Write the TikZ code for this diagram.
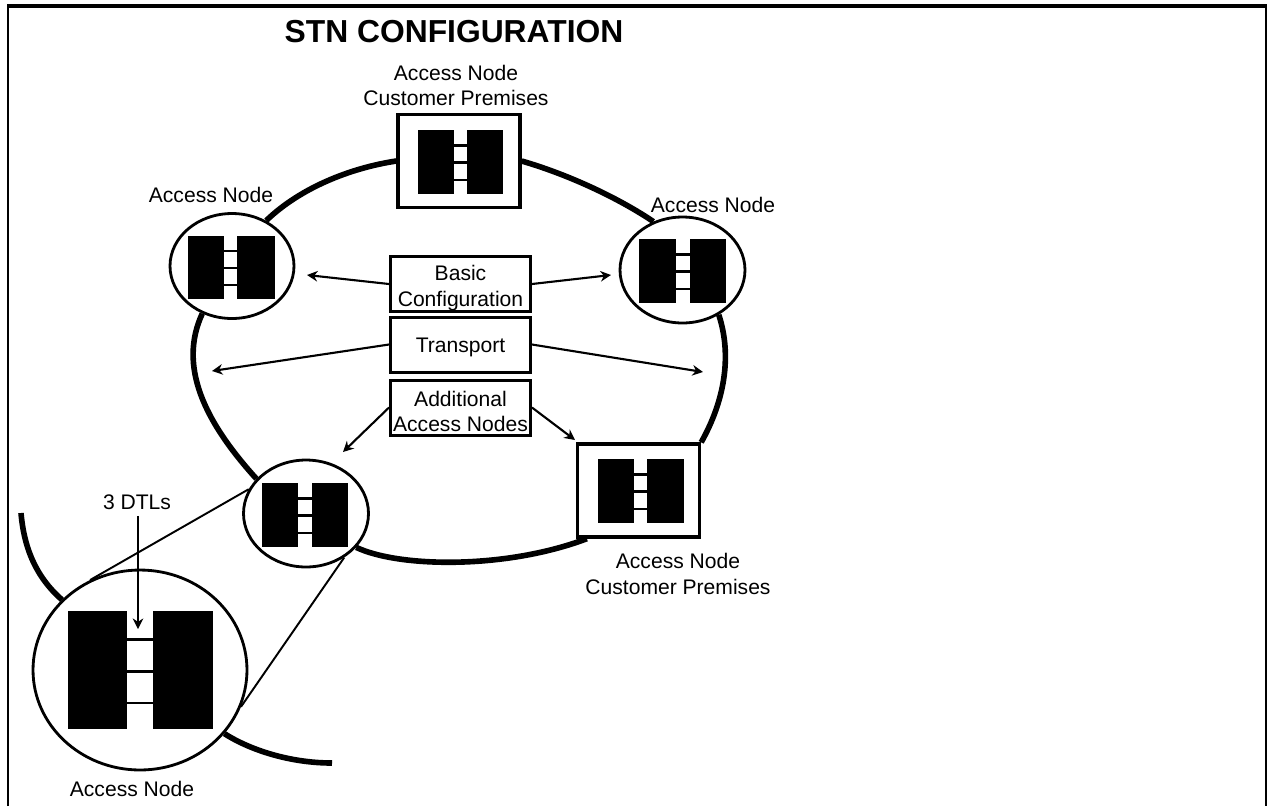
\documentclass[tikz,border=0pt]{standalone}
\usepackage{fontspec}
\setmainfont{Liberation Sans}
\usetikzlibrary{shapes.geometric, positioning, arrows.meta}

\begin{document}
\begin{tikzpicture}[x=0.02cm, y=-0.02cm,
    every node/.style={inner sep=0pt},
    labeltext/.style={align=center, font=\fontsize{12}{14.6}\selectfont},
    sitecircle/.style={draw, ellipse, line width=1.6pt, fill=white},
    sitebox/.style={draw, rectangle, line width=1.9pt, fill=white, minimum width=2.44cm, minimum height=1.86cm},
    notebox/.style={draw, rectangle, line width=1.7pt, labeltext, minimum width=2.8cm, minimum height=1.1cm},
    ringline/.style={line width=3.2pt},
    pointer/.style={-{Stealth[length=6pt, width=6pt]}, line width=1.2pt},
    zoomline/.style={line width=1.1pt}]
    \useasboundingbox (0,0) rectangle (1267,806);

    % Frame, open at the bottom
    \draw[line width=1.4pt] (8,806) -- (8,6);
    \draw[line width=1.1pt] (1266,6) -- (1266,806);
    \draw[line width=1.9pt] (7,6) -- (1267,6);

    % Title
    \node[font=\bfseries\fontsize{18.1}{22}\selectfont] (title) at (454,32) {STN CONFIGURATION};

    % Access nodes on the ring
    \node[sitebox] (topsite) at (459,161) {};
    \node[sitebox] (brsite) at (638.5,490.5) {};
    \node[sitecircle, minimum width=2.48cm, minimum height=2.1cm] (leftsite) at (232,266) {};
    \node[sitecircle, minimum width=2.5cm, minimum height=2.12cm] (rightsite) at (682.5,270) {};
    \node[sitecircle, minimum width=2.5cm, minimum height=2.14cm] (lowsite) at (306,513.5) {};
    \node[sitecircle, minimum width=4.28cm, minimum height=4cm] (bigsite) at (140,670) {};

    % Ring segments
    \draw[ringline] (topsite.west) .. controls (350,168) and (300,188) .. (leftsite.53);
    \draw[ringline] (topsite.east) .. controls (570,175) and (620,199) .. (rightsite.121);
    \draw[ringline] (leftsite.-122) .. controls (178,366) and (204,421) .. (lowsite.145);
    \draw[ringline] (rightsite.-51) .. controls (732,355) and (725,400) .. (brsite.north east);
    \draw[ringline] (lowsite.-34) .. controls (400,568) and (507,569) .. (brsite.-137);

    % Detached ring pieces round the enlarged node
    \coordinate (leftstub) at (21,513);
    \coordinate (rightstub) at (332,763);
    \draw[ringline] (leftstub) .. controls (24,548) and (36,577) .. (bigsite.138);
    \draw[ringline] (bigsite.-37) .. controls (250,750) and (290,763) .. (rightstub);

    % Lines of the enlargement
    \draw[zoomline] (lowsite.157) -- (bigsite.119);
    \draw[zoomline] (lowsite.-49) -- (bigsite.-20);

    % Boxes in the middle
    \node[notebox] (basic) at (460.5,284) {\rule{0pt}{13pt}Basic\\Configuration};
    \node[notebox] (transport) at (460.5,344.5) {\rule{0pt}{12pt}Transport};
    \node[notebox] (additional) at (460.5,407.5) {\rule{0pt}{13pt}Additional\\Access Nodes};

    % Free ends of the arrows
    \coordinate (basicleft) at (307,275);
    \coordinate (basicright) at (611,275);
    \coordinate (transportleft) at (212,371);
    \coordinate (transportright) at (703,372);
    \coordinate (addleft) at (343,452);
    \coordinate (addright) at (575,440);
    \draw[pointer] (basic.west) -- (basicleft);
    \draw[pointer] (basic.east) -- (basicright);
    \draw[pointer] (transport.west) -- (transportleft);
    \draw[pointer] (transport.east) -- (transportright);
    \draw[pointer] (additional.west) -- (addleft);
    \draw[pointer] (additional.east) -- (addright);

    % Black blocks with the three links between them
    \foreach \xa/\xb/\xc/\xd/\ya/\yb in {417.5/454/467/503/130/194, 188/224/237/275/236/299,
        639/676/690/726/239/303, 597.5/634/647/684/459/523, 262/298/312/348/483/547, 68/127/153/213/611/729} {
        \fill (\xa,\ya) rectangle (\xb,\yb);
        \fill (\xc,\ya) rectangle (\xd,\yb);
        \foreach \f in {0.24,0.51,0.78}
            \draw[line width=1.5pt] (\xb,{\ya+\f*(\yb-\ya)}) -- (\xc,{\ya+\f*(\yb-\ya)});
    }

    % Labels
    \node[labeltext, above=5.5mm of topsite.north, anchor=center, xshift=-0.06cm] (toplabel) {Access Node\\Customer Premises};
    \node[labeltext] (leftlabel) at (211,195) {Access Node};
    \node[labeltext] (rightlabel) at (713,205) {Access Node};
    \node[labeltext, below=7mm of brsite.south, anchor=center, xshift=0.79cm] (brlabel) {Access Node\\Customer Premises};
    \node[labeltext] (biglabel) at (132,789) {Access Node};
    \node[labeltext] (dtllabel) at (137,502) {3 DTLs};

    % The arrow to the links
    \coordinate (dtlend) at (138,629);
    \draw[pointer, line width=1.5pt] (dtllabel.south -| dtlend) ++(0,6) -- (dtlend);
\end{tikzpicture}
\end{document}
